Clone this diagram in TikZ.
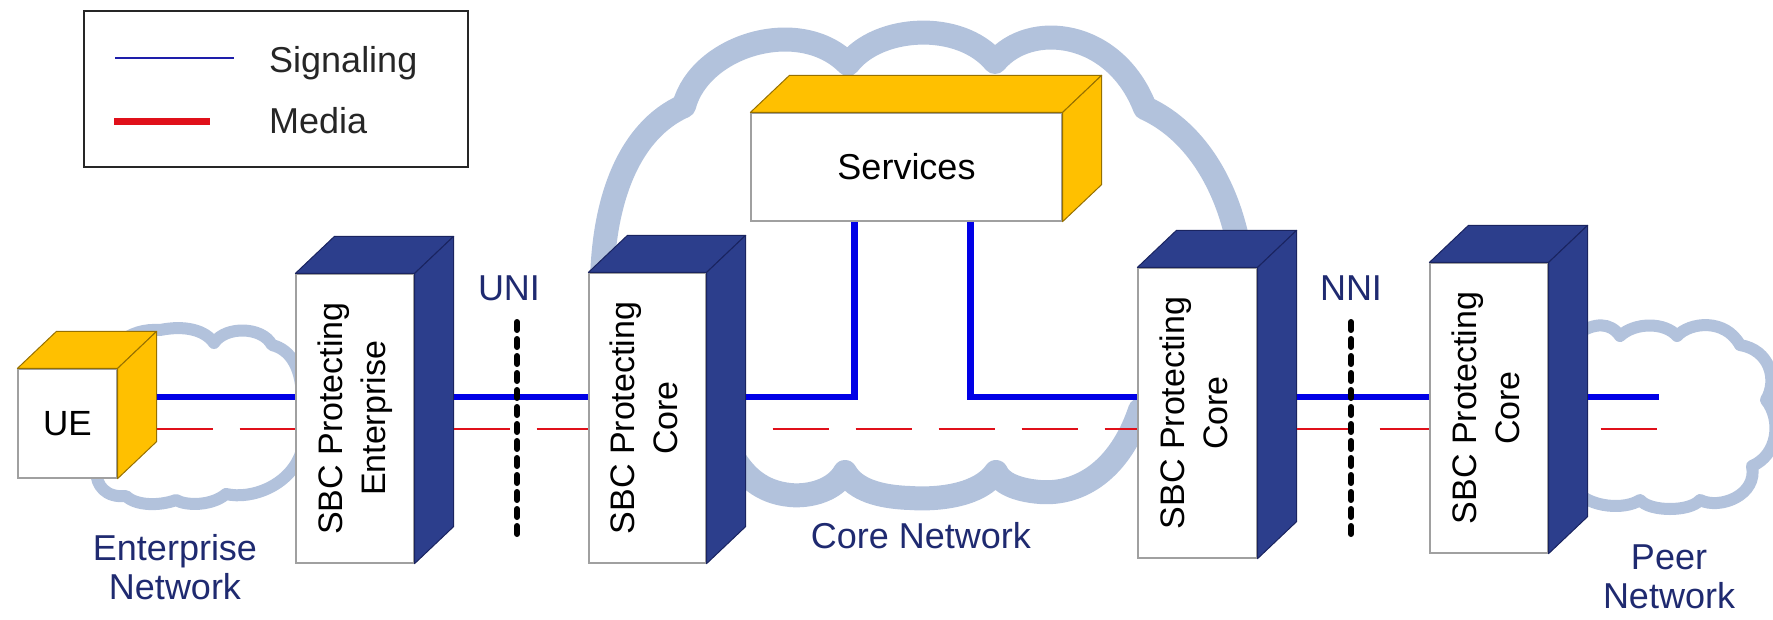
\documentclass[tikz,border=0pt]{standalone}
\usepackage{fontspec}
\setmainfont{Liberation Sans}
\usetikzlibrary{calc}
\definecolor{cloudc}{RGB}{178,194,220}
\definecolor{gold}{RGB}{255,192,0}
\definecolor{golddk}{RGB}{150,112,0}
\definecolor{navy}{RGB}{44,62,140}
\definecolor{navydk}{RGB}{26,36,96}
\definecolor{sigblue}{RGB}{0,0,230}
\definecolor{legblue}{RGB}{30,30,170}
\definecolor{medred}{RGB}{224,16,26}
\definecolor{labelc}{RGB}{31,42,112}
\definecolor{edgegray}{RGB}{160,160,160}
\tikzset{
 front/.style={draw=edgegray, fill=white, line width=1.2pt, inner sep=0pt},
 goldface/.style={fill=gold, draw=golddk, line width=1pt, line join=round},
 navyface/.style={fill=navy, draw=navydk, line width=1pt, line join=round},
 cloudline/.style={draw=cloudc, fill=white, line width=24pt, line join=round},
 sigline/.style={draw=sigblue, line width=6.5pt},
 medline/.style={draw=medred, line width=2pt, dash pattern=on 56pt off 27pt},
 iface/.style={draw=black, line width=6pt, line cap=round, dash pattern=on 8pt off 9pt},
 lbl/.style={text=labelc, font=\fontsize{36}{39}\selectfont},
 legtext/.style={text=black!85, font=\fontsize{36}{40}\selectfont},
}
\newcommand\cubebox[7]{%
 \node[front, minimum width=#4pt, minimum height=#5pt] (#1) at (#2,#3) {#7};
 \filldraw[#6] (#1.north west) -- ++(39,-37) -- ($(#1.north east)+(39,-37)$) -- (#1.north east) -- cycle;
 \filldraw[#6] (#1.north east) -- ++(39,-37) -- ($(#1.south east)+(39,-37)$) -- (#1.south east) -- cycle;
 \coordinate (#1-r) at ($(#1.east)+(39,0)$);}
\newcommand\sbctext[1]{\rotatebox{90}{\fontsize{34}{43}\selectfont\begin{tabular}{@{}c@{}}SBC Protecting\\#1\end{tabular}}}
\begin{document}
\begin{tikzpicture}[x=1pt,y=-1pt]
\useasboundingbox (0,0) rectangle (1773,619);
% clouds
\path[cloudline] (602,480) -- (602,300)
 .. controls (600,200) and (630,130) .. (684,106)
 .. controls (700,45) and (800,15) .. (848,64)
 .. controls (878,25) and (960,20) .. (995,62)
 .. controls (1030,20) and (1115,30) .. (1145,108)
 .. controls (1205,135) and (1243,210) .. (1244,300)
 -- (1244,420)
 .. controls (1200,430) and (1150,400) .. (1140,410)
 .. controls (1120,470) and (1080,495) .. (1040,492)
 .. controls (1015,490) and (1000,482) .. (996,472)
 .. controls (980,495) and (940,500) .. (910,498)
 .. controls (880,497) and (855,490) .. (845,472)
 .. controls (835,490) and (810,497) .. (790,495)
 .. controls (760,492) and (745,475) .. (735,460)
 -- cycle;
\path[cloudline, line width=12pt] (100,400) .. controls (100,345) and (130,328) .. (160,330)
 .. controls (185,325) and (205,330) .. (214,343)
 .. controls (225,326) and (262,326) .. (272,345)
 .. controls (292,350) and (302,370) .. (302,400)
 -- (302,450)
 .. controls (292,485) and (252,500) .. (226,494)
 .. controls (212,506) and (186,506) .. (176,500)
 .. controls (160,506) and (136,506) .. (126,496)
 .. controls (106,498) and (96,486) .. (96,470) -- cycle;
\path[cloudline, line width=12pt] (1575,335) .. controls (1595,322) and (1610,322) .. (1620,336)
 .. controls (1635,322) and (1665,322) .. (1677,336)
 .. controls (1690,322) and (1725,318) .. (1740,345)
 .. controls (1770,350) and (1778,380) .. (1766,400)
 .. controls (1782,420) and (1778,455) .. (1752,466)
 .. controls (1758,495) and (1720,510) .. (1700,500)
 .. controls (1690,512) and (1650,512) .. (1640,500)
 .. controls (1625,510) and (1590,508) .. (1575,490) -- cycle;
% boxes
\cubebox{ue}{67.5}{423.5}{99}{109}{goldface}{\fontsize{35}{40}\selectfont UE}
\cubebox{svc}{906.5}{167}{311}{108}{goldface}{\fontsize{36}{40}\selectfont Services}
\cubebox{sbce}{355}{418.5}{118}{289}{navyface}{\sbctext{Enterprise}}
\cubebox{core1}{647.5}{418}{117}{290}{navyface}{\sbctext{Core}}
\cubebox{core2}{1197.5}{413}{119}{290}{navyface}{\sbctext{Core}}
\cubebox{core3}{1489}{408}{118}{290}{navyface}{\sbctext{Core}}
% connectors
\coordinate (sigy) at (0,397);
\coordinate (medy) at (0,429);
\coordinate (s1) at ($(svc.south west)+(104,0)$);
\coordinate (s2) at ($(svc.south west)+(220,0)$);
\coordinate (peerend) at (1659,397);
\draw[medline] (ue-r |- medy) -- (sbce.west |- medy);
\draw[medline] (sbce-r |- medy) -- (core1.west |- medy);
\draw[medline, dash phase=56pt] (core1-r |- medy) -- (core2.west |- medy);
\draw[medline] (core2-r |- medy) -- (core3.west |- medy);
\draw[medline, dash phase=70pt] (core3-r |- medy) -- (peerend |- medy);
\draw[sigline] (ue-r |- sigy) -- (sbce.west |- sigy);
\draw[sigline] (sbce-r |- sigy) -- (core1.west |- sigy);
\draw[sigline] (core1-r |- sigy) -- (s1 |- sigy) -- (s1);
\draw[sigline] (s2) -- (s2 |- sigy) -- (core2.west |- sigy);
\draw[sigline] (core2-r |- sigy) -- (core3.west |- sigy);
\draw[sigline] (core3-r |- sigy) -- (peerend);
% interfaces
\node[lbl, anchor=base] (uni) at (509,300) {UNI};
\node[lbl, anchor=base] (nni) at (1351,300) {NNI};
\coordinate (unitop) at (517,322);
\coordinate (unibot) at (517,537);
\coordinate (nnitop) at (1351,322);
\coordinate (nnibot) at (1351,537);
\draw[iface] (unitop) -- (unibot);
\draw[iface] (nnitop) -- (nnibot);
% network labels
\node[lbl, align=center] (entlbl) at (175,567) {Enterprise\\Network};
\node[lbl, anchor=base] (corelbl) at (921,548) {Core Network};
\node[lbl, align=center] (peerlbl) at (1669,577) {Peer\\Network};
% legend
\node[draw=black!85, line width=2.5pt, minimum width=384pt, minimum height=156pt, inner sep=0pt] (legend) at (276,89) {};
\coordinate (sigA) at (115,58);
\coordinate (sigB) at (234,58);
\coordinate (medA) at (114,121);
\coordinate (medB) at (210,121);
\draw[draw=legblue, line width=2.5pt] (sigA) -- (sigB);
\draw[draw=medred, line width=7pt] (medA) -- (medB);
\node[legtext, anchor=base west, inner sep=0pt] (legsig) at (269,72) {Signaling};
\node[legtext, anchor=base west, inner sep=0pt] (legmed) at (269,133) {Media};
\end{tikzpicture}
\end{document}
